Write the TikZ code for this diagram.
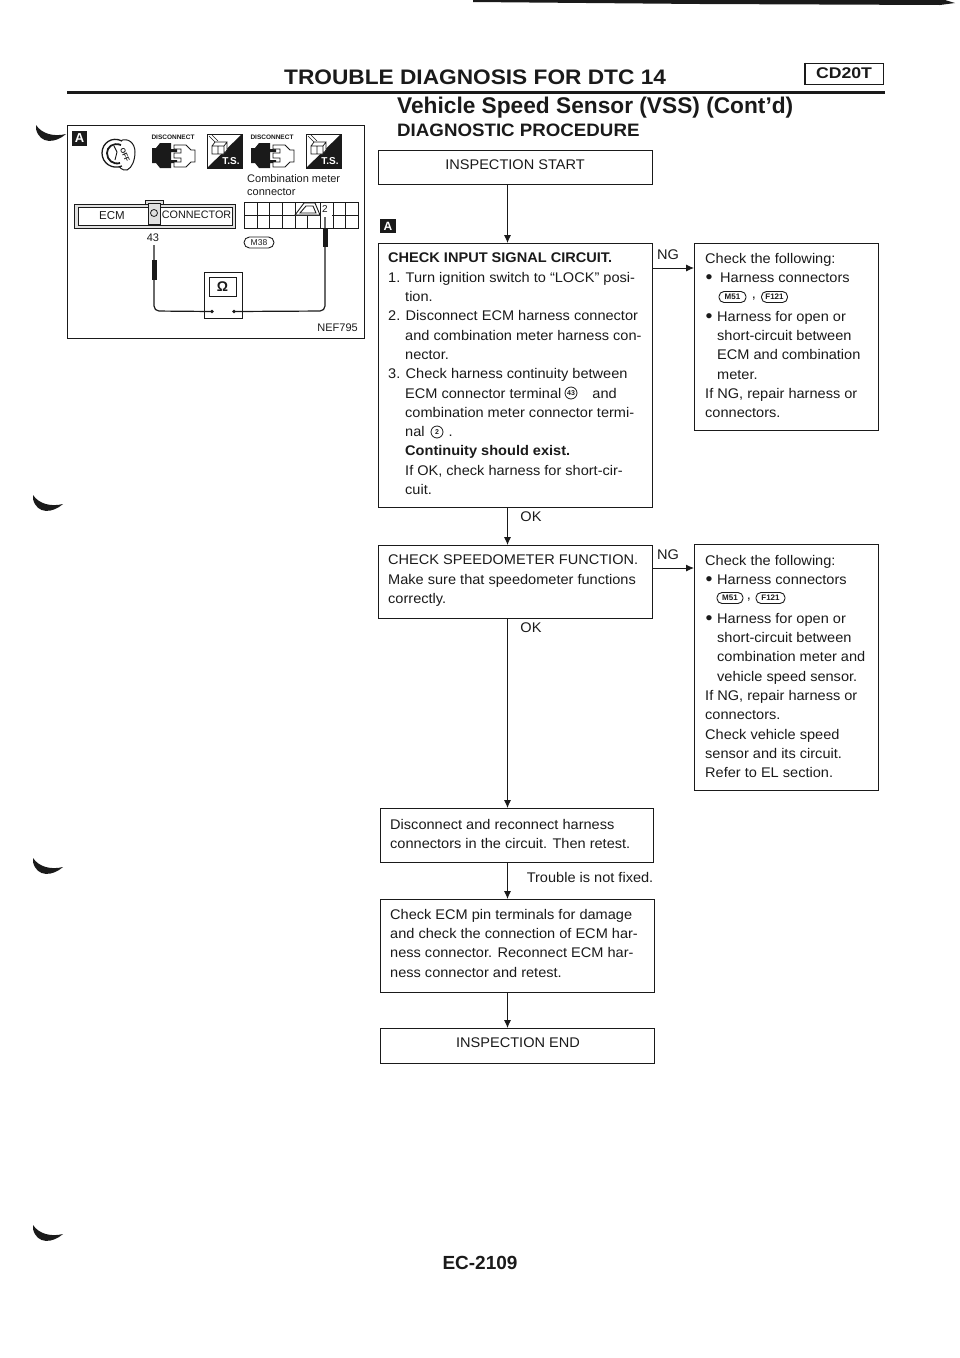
\documentclass[tikz,border=0pt]{standalone}
\usepackage{fontspec}
\setmainfont{Liberation Sans}
\newfontfamily\bodyfam[FakeStretch=1.04]{Liberation Sans}
\usetikzlibrary{arrows.meta}
\definecolor{ink}{HTML}{1A1A1A}
\newcommand{\bul}{\makebox[0pt][l]{\hspace*{0.5pt}\raisebox{-1pt}{\fontsize{19}{19}\selectfont •}}}
\tikzset{
  box/.style={draw=ink,line width=0.9pt,anchor=north west,inner sep=0pt,outer sep=0pt},
  body/.style={anchor=north west,inner sep=0pt,align=left,text=ink,font=\bodyfam\fontsize{14}{19.3}\selectfont},
  lab/.style={inner sep=0pt,text=ink,font=\bodyfam\fontsize{14}{15}\selectfont},
  flow/.style={draw=ink,line width=0.9pt,-{Latex[length=8pt,width=7pt]}},
  oval/.style={draw=ink,rounded corners=5pt,line width=0.9pt,inner sep=0pt,minimum height=11pt,font=\bfseries\fontsize{8}{8}\selectfont,text=ink},
  circ/.style={draw=ink,circle,line width=0.8pt,inner sep=0pt,minimum size=12pt,font=\bfseries\fontsize{7}{7}\selectfont,text=ink},
  small/.style={inner sep=0pt,text=ink,anchor=west,font=\fontsize{11}{13}\selectfont},
  tiny/.style={inner sep=0pt,text=ink,font=\bfseries\fontsize{6.5}{6.5}\selectfont},
  ameta/.style={fill=ink,text=white,inner sep=0pt,minimum size=15pt,font=\bfseries\fontsize{13}{13}\selectfont},
}
\begin{document}
\begin{tikzpicture}[x=1pt,y=-1pt]
\useasboundingbox (0,0) rectangle (960,1358);
% scan bar and corner ticks
\fill[ink] (473,0) -- (945,0) -- (955,3) -- (940,5) -- (700,4) -- (473,2) -- cycle;
\foreach \xo/\yo in {36/125,33/495,33/858,33/1225}{
  \fill[ink] (\xo,\yo) .. controls (\xo+6,\yo+9) and (\xo+18,\yo+12) .. (\xo+30,\yo+9) .. controls (\xo+20,\yo+18) and (\xo+4,\yo+20) .. (\xo,\yo+4) -- cycle;
}
% header
\node[inner sep=0pt,anchor=west,text=ink] (title) at (284,77.5) {\scalebox{1.08}[1]{\fontsize{21}{23}\selectfont\bfseries TROUBLE DIAGNOSIS FOR DTC 14}};
\draw[ink,line width=3pt] (67,92) -- (885,92);
\node[draw=ink,line width=1pt,minimum width=78pt,minimum height=21pt,inner sep=0pt,text=ink,anchor=center] (engine) at (844,73.5) {\scalebox{1.14}[1]{\fontsize{15.5}{16}\selectfont\bfseries CD20T}};
\draw[ink,line width=2pt] (engine.north west) -- (engine.south west);
\draw[ink,line width=1.6pt] (engine.south west) -- (engine.south east);
\node[inner sep=0pt,anchor=west,text=ink] (sub) at (397,108) {\fontsize{22.7}{25}\selectfont\bfseries Vehicle Speed Sensor (VSS) (Cont’d)};
\node[inner sep=0pt,anchor=west,text=ink] (proc) at (397,130) {\scalebox{1.04}[1]{\fontsize{18}{20}\selectfont\bfseries DIAGNOSTIC PROCEDURE}};
% left illustration
\node[box,minimum width=297pt,minimum height=213pt] (illus) at (67,125) {};
\node[ameta] (amarkL) at (79.5,138.5) {A};
% key
\draw[ink,line width=1pt,fill=white] (120,141) .. controls (128,137) and (135,143) .. (135,152) .. controls (135,160) and (132,168) .. (127,170) .. controls (122,171) and (119,167) .. (117,163) -- cycle;
\draw[ink,line width=1.3pt,fill=white] (122,141) .. controls (112,136) and (102,143) .. (102,153) .. controls (102,163) and (112,170) .. (122,166);
\draw[ink,line width=1.8pt] (121,145) .. controls (113,142) and (107,147) .. (107,153) .. controls (107,160) and (113,165) .. (120,163);
\draw[ink,line width=0.9pt] (114,146) -- (117,152) -- (115,160);
\node[inner sep=0pt,rotate=-65,text=ink,font=\bfseries\fontsize{7}{7}\selectfont] (off) at (125,155) {OFF};
% disconnect icons, T.S. icons
\foreach \dx/\nm in {0/a,99/b}{
  \node[tiny] (disc\nm) at (173+\dx,137) {DISCONNECT};
  \fill[ink] (171+\dx,143) -- (160+\dx,143) -- (156+\dx,148) -- (152+\dx,148) -- (152+\dx,163) -- (156+\dx,163) -- (160+\dx,168) -- (171+\dx,168) -- (171+\dx,163) -- (177+\dx,163) -- (177+\dx,160) -- (171+\dx,160) -- (171+\dx,152) -- (177+\dx,152) -- (177+\dx,149) -- (171+\dx,149) -- cycle;
  \draw[ink,line width=0.8pt,fill=white] (174+\dx,145) -- (186+\dx,145) -- (191+\dx,150) -- (195+\dx,150) -- (195+\dx,162) -- (191+\dx,162) -- (186+\dx,167) -- (174+\dx,167) -- (174+\dx,162) -- (181+\dx,162) -- (181+\dx,158) -- (174+\dx,158) -- (174+\dx,153) -- (181+\dx,153) -- (181+\dx,149) -- (174+\dx,149) -- cycle;
  \draw[ink,line width=0.7pt] (207+\dx,134) rectangle (242+\dx,168);
  \fill[ink] (242+\dx,134) -- (242+\dx,168) -- (207+\dx,168) -- cycle;
  \draw[ink,line width=0.7pt,fill=white] (212+\dx,146) rectangle (224+\dx,154) (212+\dx,146) -- (215+\dx,142) -- (227+\dx,142) -- (224+\dx,146) (227+\dx,142) -- (227+\dx,150) -- (224+\dx,154) (218+\dx,146) -- (218+\dx,154);
  \draw[ink,line width=0.5pt] (209+\dx,136) -- (215+\dx,142) (212+\dx,135) -- (218+\dx,141);
  \node[inner sep=0pt,text=white,font=\bfseries\fontsize{10}{10}\selectfont] (ts\nm) at (231+\dx,161) {T.S.};
}
\node[small,align=left,font=\fontsize{11}{13}\selectfont] (cmc) at (247,185) {Combination meter\\connector};
% ECM connector
\draw[ink,line width=1pt,fill=black!12] (74,204) rectangle (235,228);
\draw[ink,line width=0.7pt,fill=white] (78,207) rectangle (232,225);
\draw[ink,line width=0.8pt,fill=black!12] (145,204) -- (145,200) -- (163,200) -- (163,204);
\draw[ink,line width=0.7pt,fill=black!12] (148,203) rectangle (160,224);
\node[circ,minimum size=7pt] (pin) at (154,213) {};
\node[lab,font=\fontsize{11.5}{13}\selectfont] (ecmt) at (112,216) {ECM};
\node[lab,font=\fontsize{10.8}{13}\selectfont] (conn) at (196.5,215) {CONNECTOR};
\node[lab,font=\fontsize{11}{13}\selectfont] (t43) at (153,238) {43};
% meter connector
\draw[ink,line width=1pt] (244,202) rectangle (358,228) (244,215) -- (358,215);
\foreach \xx in {257,269,282,295,320,333,345}{\draw[ink,line width=0.8pt] (\xx,202) -- (\xx,228);}
\draw[ink,line width=0.8pt] (307,215) -- (307,228);
\draw[ink,line width=0.9pt,fill=white] (295,215) -- (304,203) -- (315,203) -- (320,215) -- cycle (300,213) -- (306,206) -- (313,206) -- (316,213) -- cycle;
\fill[white] (321,203) rectangle (332,227);
\node[lab,font=\fontsize{10}{11}\selectfont] (t2) at (325,209) {2};
\node[oval,rounded corners=5.5pt,minimum width=30pt,font=\fontsize{8.5}{9}\selectfont] (m38) at (259,242.5) {M38};
% probes and meter
\node[draw=ink,line width=1pt,minimum width=38pt,minimum height=46pt,inner sep=0pt,fill=white] (ohm) at (223,295) {};
\node[draw=ink,line width=1pt,minimum width=27pt,minimum height=19pt,inner sep=0pt,font=\bfseries\fontsize{14}{14}\selectfont,text=ink] (ohmw) at (222.5,287) {Ω};
\fill[ink] (212,311.5) circle (1.8) (234,311.5) circle (1.8);
\coordinate (ohmL) at (212,311.5);
\coordinate (ohmR) at (234,311.5);
\draw[ink,line width=1.2pt,rounded corners=5pt] (154,245) -- (154,311) -- (ohmL);
\draw[ink,line width=1.2pt,rounded corners=5pt] (325,217) -- (325,311) -- (ohmR);
\fill[ink] (151.5,260) rectangle (157,280);
\fill[ink] (322.5,228) rectangle (328,247);
\node[inner sep=0pt,anchor=east,text=ink,font=\fontsize{11}{13}\selectfont] (nef) at (358,328) {NEF795};
% flow chart boxes
\coordinate (spine) at (507.5,0);
\node[box,minimum width=274pt,minimum height=34pt] (start) at (378,150) {};
\node[lab] (startt) at (515,165) {INSPECTION START};
\node[ameta,minimum width=16pt,minimum height=14pt,font=\bfseries\fontsize{12}{12}\selectfont] (amarkR) at (388,226) {A};
\node[box,minimum width=274pt,minimum height=264pt] (check) at (378,243) {};
\node[body] (checkt) at (388,253) {\textbf{CHECK INPUT SIGNAL CIRCUIT.}\\
1. Turn ignition switch to “LOCK” posi-\\
\hspace*{17pt}tion.\\
2. Disconnect ECM harness connector\\
\hspace*{17pt}and combination meter harness con-\\
\hspace*{17pt}nector.\\
3. Check harness continuity between\\
\hspace*{17pt}ECM connector terminal \hspace{23pt} and\\
\hspace*{17pt}combination meter connector termi-\\
\hspace*{17pt}nal \hspace{20pt}.\\
\hspace*{17pt}\textbf{Continuity should exist.}\\
\hspace*{17pt}If OK, check harness for short-cir-\\
\hspace*{17pt}cuit.};
\node[circ] (c43) at (571,393) {43};
\node[circ] (c2) at (437,432) {2};
\node[box,minimum width=184pt,minimum height=187pt] (ng1) at (694,243) {};
\node[body] (ng1t) at (705,253) {Check the following:\\
\bul\hspace*{15pt}Harness connectors\\
\\
\bul\hspace*{12pt}Harness for open or\\
\hspace*{12pt}short-circuit between\\
\hspace*{12pt}ECM and combination\\
\hspace*{12pt}meter.\\
If NG, repair harness or\\
connectors.};
\node[oval,minimum width=27pt] (m51a) at (732.5,297) {M51};
\node[lab] (cma) at (754,299) {,};
\node[oval,minimum width=26pt] (f121a) at (774.5,297) {F121};
\node[box,minimum width=274pt,minimum height=73pt] (speedo) at (378,545) {};
\node[body] (speedot) at (388,555) {CHECK SPEEDOMETER FUNCTION.\\
Make sure that speedometer functions\\
correctly.};
\node[box,minimum width=184pt,minimum height=246pt] (ng2) at (694,544) {};
\node[body] (ng2t) at (705,555) {Check the following:\\
\bul\hspace*{12pt}Harness connectors\\
\\
\bul\hspace*{12pt}Harness for open or\\
\hspace*{12pt}short-circuit between\\
\hspace*{12pt}combination meter and\\
\hspace*{12pt}vehicle speed sensor.\\
If NG, repair harness or\\
connectors.\\
Check vehicle speed\\
sensor and its circuit.\\
Refer to EL section.};
\node[oval,minimum width=26pt] (m51b) at (730,598) {M51};
\node[lab] (cmb) at (749,600) {,};
\node[oval,minimum width=29pt] (f121b) at (770.5,598) {F121};
\node[box,minimum width=273pt,minimum height=54pt] (disc) at (380,808) {};
\node[body] (disct) at (390,819) {Disconnect and reconnect harness\\connectors in the circuit. Then retest.};
\node[box,minimum width=274pt,minimum height=93pt] (pins) at (380,899) {};
\node[body] (pinst) at (390,909) {Check ECM pin terminals for damage\\
and check the connection of ECM har-\\
ness connector. Reconnect ECM har-\\
ness connector and retest.};
\node[box,minimum width=274pt,minimum height=35pt] (finish) at (380,1028) {};
\node[lab] (finisht) at (518,1043) {INSPECTION END};
% connectors
\draw[flow] (start.south -| spine) -- (check.north -| spine);
\draw[flow] (check.south -| spine) -- (speedo.north -| spine);
\draw[flow] (speedo.south -| spine) -- (disc.north -| spine);
\draw[flow] (disc.south -| spine) -- (pins.north -| spine);
\draw[flow] (pins.south -| spine) -- (finish.north -| spine);
\coordinate (ya) at (0,268);
\coordinate (yb) at (0,568);
\draw[flow] (check.east |- ya) -- (ng1.west |- ya);
\draw[flow] (speedo.east |- yb) -- (ng2.west |- yb);
\node[lab] (nga) at (668,255) {NG};
\node[lab] (ngb) at (668,555) {NG};
\node[lab] (oka) at (531,517) {OK};
\node[lab] (okb) at (531,628) {OK};
\node[lab,anchor=east] (tnf) at (653.5,877) {Trouble is not fixed.};
\node[inner sep=0pt,text=ink] (page) at (480,1263) {\fontsize{19}{21}\selectfont\bfseries EC-2109};
\end{tikzpicture}
\end{document}
